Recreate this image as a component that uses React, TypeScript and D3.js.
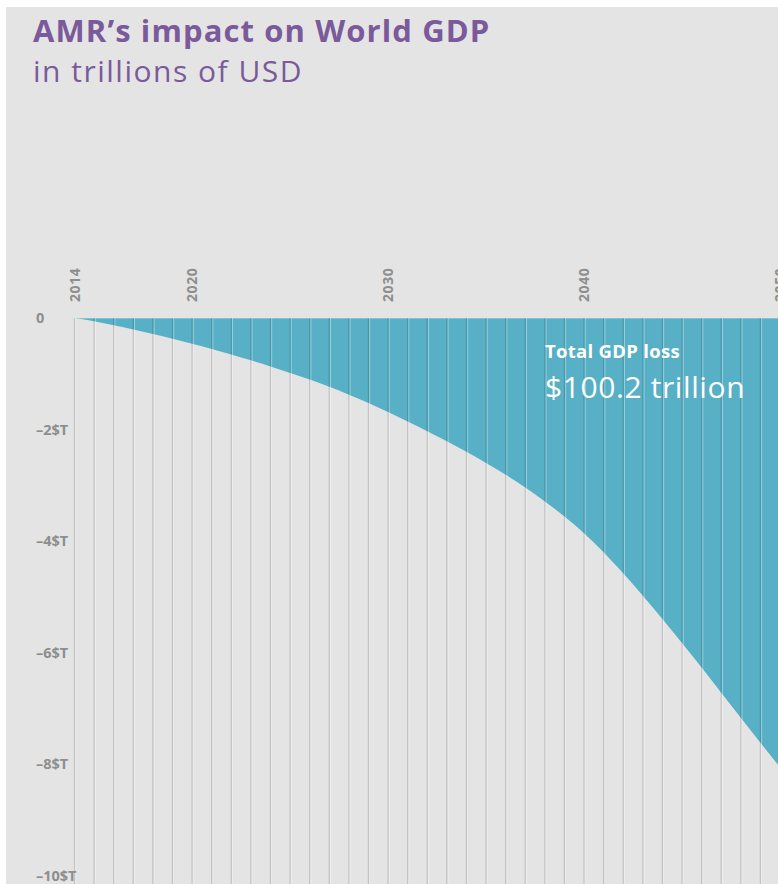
import React from "react";
import * as d3 from "d3";

const years: number[] = [
  2014, 2015, 2016, 2017, 2018, 2019, 2020, 2021, 2022, 2023, 2024, 2025,
  2026, 2027, 2028, 2029, 2030, 2031, 2032, 2033, 2034, 2035, 2036, 2037,
  2038, 2039, 2040, 2041, 2042, 2043, 2044, 2045, 2046, 2047, 2048, 2049, 2050,
];
const gdpLoss: number[] = [
  0, -0.06, -0.13, -0.205, -0.285, -0.37, -0.46, -0.555, -0.655, -0.76, -0.87, -0.985,
  -1.105, -1.235, -1.375, -1.525, -1.685, -1.855, -2.03, -2.21, -2.4, -2.6, -2.81, -3.04,
  -3.29, -3.56, -3.86, -4.2, -4.58, -4.98, -5.4, -5.83, -6.27, -6.72, -7.17, -7.62, -8.06,
];
const xTickYears: number[] = [2014, 2020, 2030, 2040, 2050];
const yTickValues: number[] = [0, -2, -4, -6, -8, -10];
const yTickLabels: string[] = ["0", "-2$T", "-4$T", "-6$T", "-8$T", "-10$T"];
const titleText = "AMR\u2019s impact on World GDP";
const subtitleText = "in trillions of USD";
const annotationLabel = "Total GDP loss";
const annotationValue = "$100.2 trillion";

const W = 778;
const H = 884;
const BG = "#e4e4e4";
const TEAL = "#57b0c5";
const PURPLE = "#7b5a9b";
const AXIS_GRAY = "#8e8e8e";
const FONT = "'Open Sans', 'Noto Sans', sans-serif";

export default function App() {
  const x = d3.scaleLinear().domain([2014, 2050]).range([74.5, 780]);
  const y = d3.scaleLinear().domain([0, -10]).range([318, 875.5]);

  const data = years.map((yr, i) => ({ yr, v: gdpLoss[i] }));
  const area = d3
    .area<{ yr: number; v: number }>()
    .x((d) => x(d.yr))
    .y0(y(0))
    .y1((d) => y(d.v))
    .curve(d3.curveMonotoneX);

  return (
    <svg
      width={W}
      height={H}
      style={{ position: "absolute", left: 0, top: 0, display: "block" }}
    >
      <rect x={0} y={0} width={W} height={H} fill="#ffffff" />
      <rect x={6} y={7} width={W - 6} height={H - 7} fill={BG} />

      <text x={33} y={42} fill={PURPLE} fontFamily={FONT} fontWeight={700} fontSize={31} letterSpacing={1.1}>
        {titleText}
      </text>
      <text x={33} y={82} fill={PURPLE} fontFamily={FONT} fontWeight={400} fontSize={30} letterSpacing={1.5}>
        {subtitleText}
      </text>

      <path d={area(data) || ""} fill={TEAL} />
      <line x1={x(2014)} x2={W} y1={y(0) + 0.5} y2={y(0) + 0.5} stroke="rgba(255,255,255,0.25)" strokeWidth={1} />

      {years.map((yr) => (
        <g key={yr}>
          <line
            x1={x(yr) + 1.2}
            x2={x(yr) + 1.2}
            y1={y(0)}
            y2={H}
            stroke="rgba(255,255,255,0.4)"
            strokeWidth={1}
          />
          <line
            x1={x(yr)}
            x2={x(yr)}
            y1={y(0)}
            y2={H}
            stroke="rgba(0,0,0,0.14)"
            strokeWidth={1.3}
          />
        </g>
      ))}

      {xTickYears.map((yr) => (
        <text
          key={yr}
          transform={`translate(${x(yr) + 5},302) rotate(-90)`}
          fill={AXIS_GRAY}
          fontFamily={FONT}
          fontWeight={700}
          fontSize={14}
          letterSpacing={0.6}
        >
          {yr}
        </text>
      ))}

      {yTickValues.map((v, i) => (
        <text
          key={v}
          x={36}
          y={y(v)}
          dy="0.35em"
          fill={AXIS_GRAY}
          fontFamily={FONT}
          fontWeight={700}
          fontSize={14.5}
        >
          {yTickLabels[i].replace("-", "\u2013")}
        </text>
      ))}

      <text x={545} y={358} fill="#ffffff" fontFamily={FONT} fontWeight={700} fontSize={18.5} letterSpacing={0.3}>
        {annotationLabel}
      </text>
      <text x={545} y={398} fill="#ffffff" fontFamily={FONT} fontWeight={400} fontSize={30} letterSpacing={0.6}>
        {annotationValue}
      </text>
    </svg>
  );
}
